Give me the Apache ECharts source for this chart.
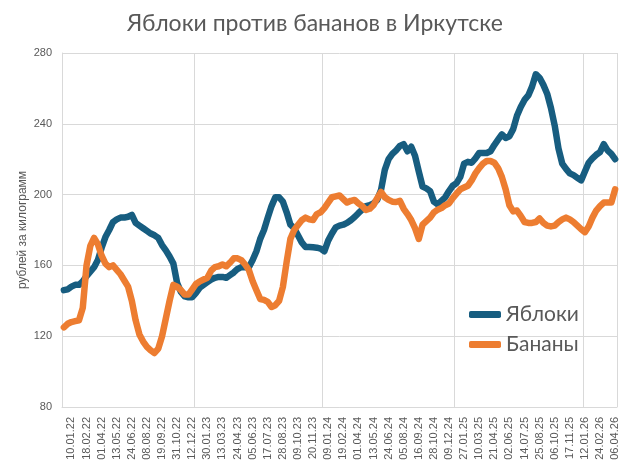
<!DOCTYPE html>
<html>
<head>
<meta charset="utf-8">
<script src="https://cdn.jsdelivr.net/npm/echarts@6/dist/echarts.min.js"></script>
<style>html,body{margin:0;padding:0;background:#fff}#c{width:634px;height:475px}</style>
</head>
<body>
<div id="c"></div>
<script>
const tickLabels = ['10.01.22','18.02.22','01.04.22','13.05.22','24.06.22','08.08.22','19.09.22','31.10.22','12.12.22','30.01.23','13.03.23','24.04.23','05.06.23','17.07.23','28.08.23','09.10.23','20.11.23','09.01.24','19.02.24','01.04.24','13.05.24','24.06.24','05.08.24','16.09.24','28.10.24','09.12.24','27.01.25','10.03.25','21.04.25','02.06.25','14.07.25','25.08.25','06.10.25','17.11.25','12.01.26','24.02.26','06.04.26'];
const apples = [
146,146.5,148,149,149,151,154,156.5,159,163,
170,176,180,184.5,186,187,187,187.5,188.5,184,
182.5,181,179.5,178,177,175.5,171.5,168.5,165,161,
150,145,142.5,142,142,144.5,147.5,149,150.5,152,
153,153.5,153.5,153,154.5,156,158,159,159,159,
163,168,175,180,187,193.5,198.5,198.5,196,190,
183,181,177,173,170.4,170.4,170.2,170,169.5,168,
174,178,181.5,182.5,183,184,185.5,187.3,189.5,191.5,
193.5,194,195,197,202.6,214,220,223,225,227.5,
228.5,224.5,227,222,213,204.5,203.5,202,196,194.5,
196.5,198.5,202,205,206.5,210,217.5,218.5,218,220.5,
223.5,223.5,223.5,224.5,228,231,234,232,233,237,
244.5,249.5,253.5,256,261,268,266,262,257,249,
239,226,217.5,214.5,212,211,209.5,208,213,218,
220.5,222.5,224,228.5,225,223,220
];
const bananas = [
125,127,128,128.5,129,136,160,171,175.5,172,
165.5,161,159,160,157.5,155,151.5,148,140,129,
121,117,114,112,110.5,113,120,130,140,149,
148,146,143.5,143.5,146.5,149.5,151,152,153,157,
159,159.5,160.5,159.5,161.5,164,164,163,160.5,157.4,
151,146,141,140.5,139.4,136.5,137.5,140,147.8,162,
175,180,182.8,185.5,187,186,185.6,189,190,192.4,
195.5,198.5,199,199.5,197.5,195.5,196.5,197,195,193.5,
191.3,192,194,198,201.5,198.5,197,196,195.8,196.5,
192,189,185.6,181,175,183,185,187,190,191.5,
192.4,194,195,198,200.5,203,204,205,208,212,
215,217.5,219,219,218,215,210,203,194,190.5,
191,188,184.5,184,184,184.5,186.5,184,182.5,182,
182.5,184.5,186,187,186,184.5,182.5,180.5,178.8,182,
187,191,193.5,195.5,195.5,195.5,203
];
// every fourth data point carries a tick label (indices 2, 6, 10, ...)
const categories = [];
tickLabels.forEach(l => { categories.push('', '', l, ''); });
categories.length = apples.length;

const chart = echarts.init(document.getElementById('c'));
const txt = '#595959';
const gridLineSteps = 34.5;
chart.setOption({
  animation: false,
  title: {
    text: 'Яблоки против бананов в Иркутске',
    left: 122, top: 7,
    textStyle: { fontFamily: 'Lato', fontWeight: 'normal', fontSize: 23, color: txt }
  },
  legend: {
    orient: 'vertical', left: 464, top: 299,
    itemWidth: 32, itemHeight: 7, itemGap: 9,
    icon: 'roundRect',
    textStyle: { fontFamily: 'Lato', fontSize: 21, color: txt },
    data: ['Яблоки', 'Бананы']
  },
  grid: { left: 62, top: 53, width: 555, height: 354, containLabel: false },
  xAxis: {
    type: 'category', data: categories, boundaryGap: true,
    axisLine: { lineStyle: { color: '#d9d9d9' } },
    axisTick: { show: false },
    axisLabel: {
      rotate: 90, interval: (i, v) => v !== '', margin: 10,
      fontFamily: 'Liberation Sans', fontSize: 11, color: txt
    },
    splitLine: {
      show: true,
      interval: (i) => i > 0 && [1, 2, 3, 4].some(k => Math.round(k * gridLineSteps) === i),
      lineStyle: { color: '#d9d9d9' }
    }
  },
  yAxis: {
    type: 'value', min: 80, max: 280, interval: 40,
    name: 'рублей за килограмм', nameLocation: 'middle', nameGap: 33, nameMoveOverlap: false,
    nameTextStyle: { fontFamily: 'Liberation Sans', fontSize: 12, color: txt },
    axisLine: { show: true, lineStyle: { color: '#d9d9d9' } },
    axisTick: { show: false },
    axisLabel: { fontFamily: 'Liberation Sans', fontSize: 11, color: txt, margin: 10 },
    splitLine: { lineStyle: { color: '#d9d9d9' } }
  },
  series: [
    { name: 'Яблоки', type: 'line', data: apples, showSymbol: false, symbol: 'none',
      itemStyle: { color: '#175d80' },
      lineStyle: { width: 6.5, color: '#175d80', cap: 'round', join: 'round' } },
    { name: 'Бананы', type: 'line', data: bananas, showSymbol: false, symbol: 'none',
      itemStyle: { color: '#ed7d31' },
      lineStyle: { width: 6.5, color: '#ed7d31', cap: 'round', join: 'round' } }
  ]
});
</script>
</body>
</html>
